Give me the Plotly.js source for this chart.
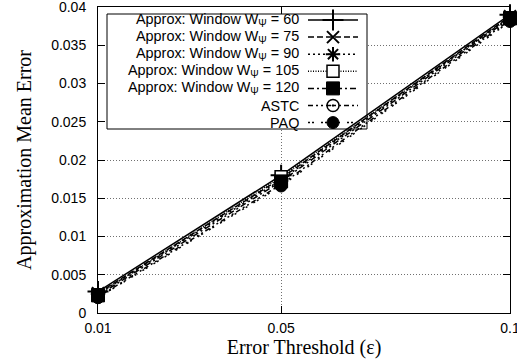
<!DOCTYPE html>
<html><head><meta charset="utf-8">
<script src="https://cdn.plot.ly/plotly-3.0.1.min.js"></script>
<style>html,body{margin:0;padding:0;background:#fff;overflow:hidden}</style>
</head><body><div id="chart" style="width:517px;height:364px"></div>
<script>
// ---- data ----
const thresholds = [0.01, 0.05, 0.1];
const seriesNames = [
  'Approx: Window W<sub>Ψ</sub> = 60',
  'Approx: Window W<sub>Ψ</sub> = 75',
  'Approx: Window W<sub>Ψ</sub> = 90',
  'Approx: Window W<sub>Ψ</sub> = 105',
  'Approx: Window W<sub>Ψ</sub> = 120',
  'ASTC',
  'PAQ'
];
const w60  = [0.0028, 0.0180, 0.0390];
const w75  = [0.0026, 0.0176, 0.0388];
const w90  = [0.0025, 0.0174, 0.0387];
const w105 = [0.0024, 0.0178, 0.0386];
const w120 = [0.0023, 0.0172, 0.0385];
const astc = [0.0021, 0.0168, 0.0383];
const paq  = [0.0020, 0.0166, 0.0381];
const xTickVals = [0.01, 0.05, 0.1];
const xTickText = ['0.01', '0.05', '0.1'];
const yTickVals = [0, 0.005, 0.01, 0.015, 0.02, 0.025, 0.03, 0.035, 0.04];
const yTickText = ['0', '0.005', '0.01', '0.015', '0.02', '0.025', '0.03', '0.035', '0.04'];

// ---- styles ----
const seriesValues = [w60, w75, w90, w105, w120, astc, paq];
const styles = [
  {dash: 'solid',                     symbol: 'cross-thin-open', size: 15, color: '#000', lw: 2},
  {dash: '6px,3px',                   symbol: 'x-thin-open',     size: 12, color: '#000', lw: 2},
  {dash: '2px,3px',                   symbol: 'asterisk-open',   size: 12, color: '#000', lw: 2},
  {dash: '1px,1.5px',                 symbol: 'square',          size: 12, color: '#fff', lw: 1.5},
  {dash: '6px,3px,2px,3px',           symbol: 'square',          size: 13, color: '#000', lw: 1},
  {dash: '5px,3px,2px,3px,2px,3px',   symbol: 'circle-open-dot', size: 12, color: '#000', lw: 1.5},
  {dash: '2px,2px,2px,7px',           symbol: 'circle',          size: 12, color: '#000', lw: 1}
];

const W = 517, H = 364;
const M = {l: 98, r: 7, t: 7, b: 51};
const pw = W - M.l - M.r, ph = H - M.t - M.b;
const xR = [0.01, 0.1], yR = [0, 0.04];
const px2x = p => xR[0] + (p - M.l) / pw * (xR[1] - xR[0]);
const py2y = p => yR[0] + (M.t + ph - p) / ph * (yR[1] - yR[0]);

const traces = [];
seriesValues.forEach((vals, i) => {
  const s = styles[i];
  traces.push({
    x: thresholds, y: vals, type: 'scatter', mode: 'lines+markers', name: seriesNames[i],
    showlegend: false, cliponaxis: false, hoverinfo: 'skip',
    line: {color: '#000', width: 1.5, dash: s.dash},
    marker: {symbol: s.symbol, size: s.size, color: s.color, line: {color: '#000', width: s.lw}}
  });
});

// custom legend (text right-aligned, sample on the right, as in the reference)
const legTop = 20, legStep = 17.1;
const annotations = [];
seriesNames.forEach((nm, i) => {
  const s = styles[i];
  const yy = py2y(legTop + i * legStep);
  traces.push({
    x: [px2x(308), px2x(358)], y: [yy, yy], type: 'scatter', mode: 'lines',
    showlegend: false, hoverinfo: 'skip', cliponaxis: false,
    line: {color: '#000', width: 1.5, dash: s.dash}
  });
  traces.push({
    x: [px2x(333)], y: [yy], type: 'scatter', mode: 'markers',
    showlegend: false, hoverinfo: 'skip', cliponaxis: false,
    marker: {symbol: s.symbol, size: s.size, color: s.color, line: {color: '#000', width: s.lw}}
  });
  annotations.push({
    x: px2x(301), y: yy, xref: 'x', yref: 'y', xanchor: 'right', yanchor: 'middle',
    text: nm, showarrow: false,
    font: {family: 'Liberation Sans, Arial, sans-serif', size: 14.4, color: '#000'}
  });
});

const shapes = [{
  type: 'rect', xref: 'x', yref: 'y', layer: 'between',
  x0: px2x(107), x1: px2x(367), y0: py2y(129), y1: py2y(14),
  fillcolor: '#fff', line: {color: '#000', width: 1}
}];

const tickFont = {family: 'Liberation Sans, Arial, sans-serif', size: 14, color: '#000'};
const titleFont = {family: 'Liberation Serif, Times New Roman, serif', size: 20, color: '#000'};

const layout = {
  width: W, height: H, margin: M,
  paper_bgcolor: '#fff', plot_bgcolor: '#fff',
  showlegend: false,
  xaxis: {
    range: xR, tickvals: xTickVals, ticktext: xTickText,
    ticks: 'inside', ticklen: 7, tickwidth: 1, tickcolor: '#000',
    showline: true, linecolor: '#000', linewidth: 1, mirror: 'allticks',
    showgrid: true, gridcolor: '#707070', griddash: '1px,2px', gridwidth: 1, zeroline: false,
    tickfont: tickFont, ticklabeloverflow: 'allow', ticklabelstandoff: 2,
    title: {text: 'Error Threshold (ε)', font: titleFont, standoff: 3}
  },
  yaxis: {
    range: yR, tickvals: yTickVals, ticktext: yTickText,
    ticks: 'inside', ticklen: 7, tickwidth: 1, tickcolor: '#000',
    showline: true, linecolor: '#000', linewidth: 1, mirror: 'allticks',
    showgrid: true, gridcolor: '#707070', griddash: '1px,2px', gridwidth: 1, zeroline: false,
    tickfont: tickFont, ticklabelstandoff: 8, ticklabeloverflow: 'allow',
    title: {text: 'Approximation Mean Error', font: titleFont, standoff: 14}
  },
  shapes: shapes,
  annotations: annotations
};

Plotly.newPlot('chart', traces, layout, {displayModeBar: false, staticPlot: true});
</script>
</body></html>
